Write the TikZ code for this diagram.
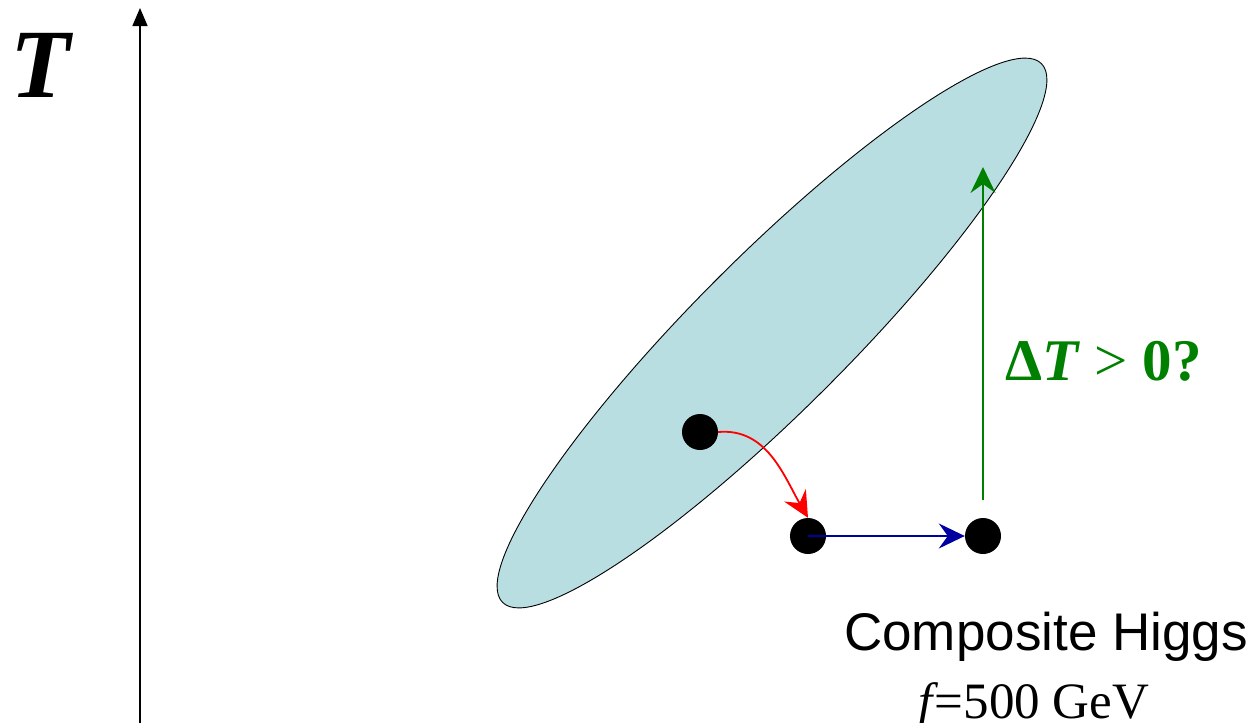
\documentclass[tikz,border=0pt]{standalone}
\usepackage{fontspec}
\newfontfamily\arialf{Liberation Sans}
\newfontfamily\timesf{Liberation Serif}
\usetikzlibrary{arrows.meta}
\definecolor{ellfill}{RGB}{184,222,226}
\definecolor{dgreen}{RGB}{0,128,0}
\definecolor{dblue}{RGB}{0,0,160}
\tikzset{
  dot/.style={circle,fill=black,minimum size=36pt,inner sep=0pt},
  conn/.style={line width=1.8pt,-{Stealth[length=26pt,width=25pt,inset=9pt]}},
}
\begin{document}
\begin{tikzpicture}[x=1pt,y=-1pt]
\useasboundingbox (0,0) rectangle (1251,723);
% axis
\coordinate (axb) at (140,723);
\coordinate (axt) at (140,8);
\draw[line width=1.5pt,-{Triangle[length=18pt,width=15pt]}] (axb) -- (axt);
\node[font=\timesf\bfseries\itshape\fontsize{98}{98}\selectfont,anchor=base] (T) at (40,97) {T};
% ellipse
\draw[fill=ellfill,line width=0.9pt] (772,333) ellipse[x radius=381, y radius=77, rotate=45];
% dots
\node[dot] (d1) at (700,432) {};
\node[dot] (d2) at (808,536) {};
\node[dot] (d3) at (983,536) {};
% arrows
\draw[conn,red] (d1.east) to[out=5,in=120] (d2.north);
\draw[conn,dblue] (d2.center) -- (d3.west);
\coordinate (gtop) at (983,167);
\coordinate (gbot) at (983,500);
\draw[conn,dgreen] (gbot) -- (gtop);
\node[text=dgreen,font=\timesf\fontsize{59}{59}\selectfont,anchor=base west,inner sep=0pt] (dT) at (1005,380) {\textbf{Δ\textit{T}} {>} \textbf{0?}};
\node[font=\arialf\fontsize{53}{53}\selectfont,anchor=base] (ch) at (1046,650) {Composite Higgs};
\node[font=\timesf\fontsize{51}{51}\selectfont,anchor=base] (fv) at (1034,718) {\textit{f}\kern-4pt=500 GeV};
\end{tikzpicture}
\end{document}
